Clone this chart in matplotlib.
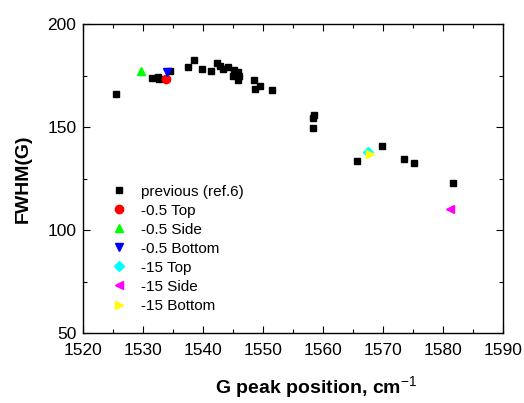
import numpy as np
import matplotlib
matplotlib.use("Agg")
import matplotlib.pyplot as plt

plt.rcParams['font.family'] = ['Liberation Sans', 'DejaVu Sans']
plt.rcParams['mathtext.fontset'] = 'custom'
plt.rcParams['mathtext.rm'] = 'Liberation Sans'
plt.rcParams['mathtext.bf'] = 'Liberation Sans:bold'

#previous data (ref.6)
prev_x = [1525.4, 1531.4, 1532.4, 1532.6, 1534.4, 1537.4, 1538.4, 1539.7, 1541.2,
          1542.3, 1542.8, 1543.3, 1544.1, 1545.1, 1544.9, 1545.8, 1545.7, 1546.0,
          1548.5, 1548.6, 1549.5, 1551.4, 1558.5, 1558.3, 1558.2, 1565.6, 1569.8,
          1573.5, 1575.1, 1581.6]
prev_y = [166.2, 173.9, 174.3, 173.2, 177.3, 179.3, 182.4, 178.2, 177.3,
          180.9, 179.6, 178.2, 179.1, 177.7, 174.8, 176.5, 172.8, 175.0,
          173.0, 168.3, 169.9, 168.1, 155.8, 154.5, 149.5, 133.6, 140.8,
          134.3, 132.7, 123.0]

#new samples
labels = ['-0.5 Top', '-0.5 Side', '-0.5 Bottom', '-15 Top', '-15 Side', '-15 Bottom']
new_x = [1533.7, 1529.6, 1533.95, 1567.45, 1581.05, 1567.8]
new_y = [173.3, 177.2, 176.7, 138.0, 110.0, 136.9]
markers = ['o', '^', 'v', 'D', '<', '>']
colors = ['#FF0000', '#00FF00', '#0000FF', '#00FFFF', '#FF00FF', '#FFFF00']

fig = plt.figure(figsize=(5.24, 4.03), dpi=100)
ax = fig.add_axes([0.159, 0.1737, 0.8015, 0.7667])

ax.plot(prev_x, prev_y, 's', color='black', ms=5, ls='none', label='previous (ref.6)')
for x, y, m, c, lab in zip(new_x, new_y, markers, colors, labels):
    ms = 5 if m == 'D' else 6
    ax.plot([x], [y], m, color=c, ms=ms, ls='none', label=lab)

ax.set_xlim(1520, 1590)
ax.set_ylim(50, 200)
ax.set_xticks(np.arange(1520, 1591, 10))
ax.set_xticks(np.arange(1525, 1590, 10), minor=True)
ax.set_yticks([50, 100, 150, 200])
ax.set_yticks([75, 125, 175], minor=True)
ax.tick_params(which='both', direction='in', labelsize=12.5, top=True, right=True)
ax.tick_params(axis='x', which='both', pad=7)
ax.tick_params(axis='y', which='both', pad=5)
ax.tick_params(which='major', length=5, width=0.8)
ax.tick_params(which='minor', length=3, width=0.8)
for s in ax.spines.values():
    s.set_linewidth(1.0)

ax.set_xlabel('G peak position, cm$^{-1}$', fontsize=14, fontweight='bold', labelpad=11)
ax.xaxis.set_label_coords(0.555, -0.135)
ax.set_ylabel('FWHM(G)', fontsize=14, fontweight='bold', labelpad=11)

ax.legend(loc='upper left', bbox_to_anchor=(0.035, 0.50), frameon=False, fontsize=11,
          handletextpad=0.4, labelspacing=0.33, borderaxespad=0)

fig.savefig('out.png', dpi=100)
